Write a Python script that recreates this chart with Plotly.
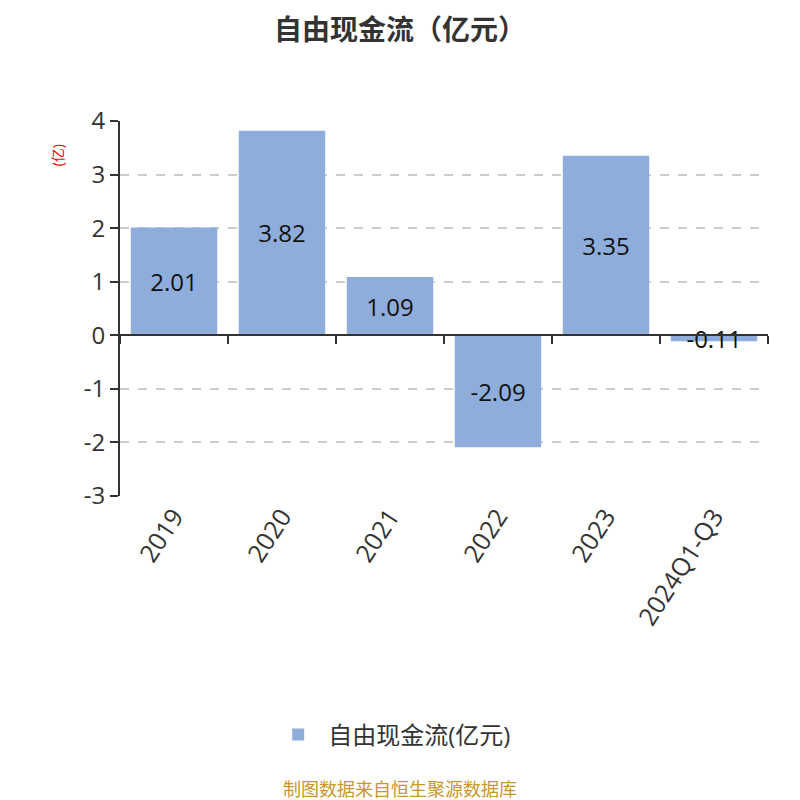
import plotly.graph_objects as go

# ── Data ─────────────────────────────────────────────────────────────────────
years   = ['2019', '2020', '2021', '2022', '2023', '2024Q1-Q3']
fcf     = [2.01, 3.82, 1.09, -2.09, 3.35, -0.11]
y_ticks = [-3, -2, -1, 0, 1, 2, 3, 4]

BAR_COLOR = '#8eaddb'
FONT = 'Open Sans, Noto Sans CJK SC, sans-serif'
AXIS = '#333333'

fig = go.Figure()
fig.add_trace(go.Bar(
    x=years, y=fcf, name='自由现金流(亿元)',
    marker=dict(color=BAR_COLOR, line=dict(width=0)),
    width=0.8,
    text=[f'{v:.2f}' for v in fcf],
    textposition='inside', insidetextanchor='middle',
    constraintext='none', cliponaxis=False,
    textfont=dict(size=24, color='#111111', family=FONT),
))

# empty trace on a second x axis: axis line + boundary ticks sit at y=0
fig.add_trace(go.Scatter(x=years, y=[None] * len(years), xaxis='x2',
                         showlegend=False, hoverinfo='skip'))

fig.update_layout(
    width=800, height=800,
    margin=dict(l=112, r=40, t=113, b=312),
    plot_bgcolor='white', paper_bgcolor='white',
    font=dict(family=FONT, color=AXIS),
    title=dict(text='<b>自由现金流（亿元）</b>', x=0.49, xanchor='center',
               y=0.972, yanchor='middle',
               font=dict(size=28, color=AXIS, family=FONT)),
    xaxis=dict(showline=False, ticks='', showgrid=False,
               tickangle=-57, tickfont=dict(size=25, color=AXIS)),
    xaxis2=dict(overlaying='x', anchor='free', position=3 / 7,
                matches='x', showticklabels=False, showgrid=False,
                showline=True, linecolor=AXIS, linewidth=2,
                ticks='outside', tickson='boundaries', ticklen=8,
                tickwidth=2, tickcolor=AXIS),
    yaxis=dict(range=[-3, 4], tickvals=y_ticks,
               ticktext=[str(t) for t in y_ticks],
               showline=True, linecolor=AXIS, linewidth=2,
               ticks='outside', ticklen=8, tickwidth=2, tickcolor=AXIS,
               showgrid=True, gridcolor='#cccccc', griddash='dash',
               gridwidth=1.5, zeroline=False,
               tickfont=dict(size=24, color=AXIS)),
    showlegend=True,
    legend=dict(orientation='h', x=0.42, xanchor='center', y=-0.637,
                yanchor='middle', font=dict(size=24, color=AXIS),
                itemwidth=50),
    bargap=0.2,
)

fig.add_annotation(text='(亿)', textangle=-90, x=-0.097, y=0.909,
                   xref='paper', yref='paper', showarrow=False,
                   xanchor='center', yanchor='middle',
                   font=dict(size=14, color='red', family=FONT))
fig.add_annotation(text='制图数据来自恒生聚源数据库', x=0.432, y=-0.781,
                   xref='paper', yref='paper', showarrow=False,
                   xanchor='center', yanchor='middle',
                   font=dict(size=18, color='#c8962c', family=FONT))

fig.write_html('out.html')
